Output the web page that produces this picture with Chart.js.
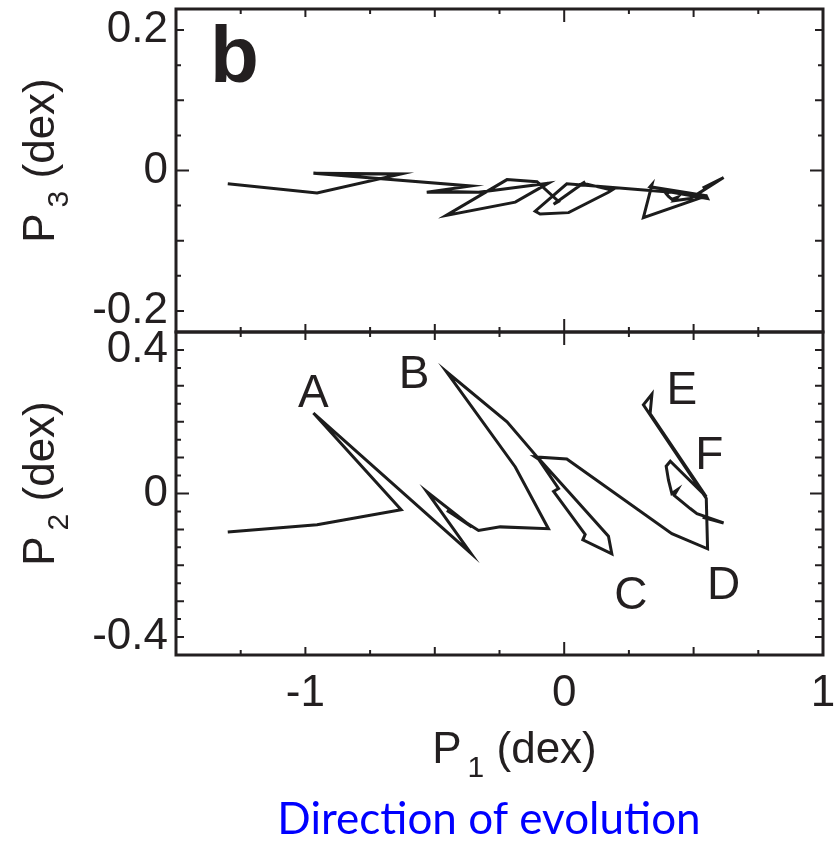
<!DOCTYPE html>
<html>
<head>
<meta charset="utf-8">
<script src="https://cdn.jsdelivr.net/npm/chart.js@4"></script>
<style>
  html, body { margin: 0; padding: 0; background: #ffffff; }
  #wrap { position: relative; width: 834px; height: 841px; }
</style>
</head>
<body>
<div id="wrap"><canvas id="chart" width="834" height="841"></canvas></div>
<script>
// Trajectory in principal-component space (dex)
const p1 = [-1.300, -0.955, -0.630, -0.969, -0.361, -0.531, -0.357, -0.453, -0.331, -0.247,
            -0.061, -0.189, -0.456, -0.221, -0.105, -0.022, -0.041,  0.081,  0.072,  0.184,
             0.171,  0.017, -0.093, -0.112,  0.010,  0.416,  0.554,  0.549,  0.306,  0.339,
             0.332,  0.549,  0.410,  0.394,  0.403,  0.416,  0.438,  0.425,  0.487,  0.513,
             0.616,  0.535];
const p2 = [-0.107, -0.087, -0.045,  0.224, -0.166,  0.005, -0.093, -0.047, -0.103, -0.093,
            -0.098,  0.074,  0.340,  0.200,  0.102,  0.014,  0.006, -0.114, -0.129, -0.168,
            -0.119,  0.005,  0.093,  0.102,  0.096, -0.112, -0.154, -0.014,  0.247,  0.277,
             0.223, -0.009,  0.090,  0.076,  0.037,  0.000,  0.011, -0.005, -0.042, -0.056,
            -0.082, -0.066];
const p3 = [-0.019, -0.032, -0.005, -0.004, -0.022, -0.031, -0.031, -0.030, -0.031, -0.027,
            -0.018, -0.045, -0.064, -0.013, -0.016, -0.044, -0.048, -0.016, -0.018, -0.028,
            -0.031, -0.060, -0.062, -0.058, -0.019, -0.031, -0.040, -0.036, -0.067, -0.020,
            -0.023, -0.036, -0.030, -0.033, -0.037, -0.041, -0.038, -0.043, -0.040, -0.034,
            -0.010, -0.025];

// Stage letters and the trajectory vertex each one marks
const stageLetters = ['A', 'B', 'C', 'D', 'E', 'F'];
const stageIndex = [3, 12, 19, 26, 29, 31];

// Axis ranges and labelled ticks
const xRange = [-1.5, 1];
const p3Range = [-0.23, 0.23];
const p2Range = [-0.45, 0.45];
const xTickLabels = [-1, 0, 1];
const p3TickLabels = [-0.2, 0, 0.2];
const p2TickLabels = [-0.4, -0.2, 0, 0.2, 0.4];

const panelLetter = 'b';
const captionText = 'Direction of evolution';

// ---- styling ----
const INK = '#231f20';
const FONT = '"Liberation Sans", Arial, Helvetica, sans-serif';
const letterOffsets = { A: [0, -6], B: [-32, 17], C: [19, 55], D: [16, 50], E: [30, 10], F: [3, -28] };

function tickLen(v, majorStep) {
  const r = Math.round(v * 1000) / 1000;
  if (Math.abs(r) < 1e-9) return 13;
  const q = r / majorStep;
  return Math.abs(q - Math.round(q)) < 1e-6 ? 8 : 5;
}
function range(a, b, step) {
  const out = [];
  for (let i = Math.ceil(a / step - 1e-9); i * step <= b + 1e-9; i++) out.push(Math.round(i * step * 1000) / 1000);
  return out;
}

function drawTitle(ctx, cx, cy, angle, main, sub, rest) {
  ctx.save();
  ctx.translate(cx, cy);
  ctx.rotate(angle);
  ctx.fillStyle = INK;
  ctx.textBaseline = 'alphabetic';
  ctx.textAlign = 'left';
  const big = '44px ' + FONT, small = '30px ' + FONT;
  ctx.font = big; const w1 = ctx.measureText(main).width; const w3 = ctx.measureText(rest).width;
  ctx.font = small; const w2 = ctx.measureText(sub).width;
  const gap = 6;
  let x = -(w1 + gap + w2 + w3) / 2;
  ctx.font = big; ctx.fillText(main, x, 0); x += w1 + gap;
  ctx.font = small; ctx.fillText(sub, x, 14); x += w2;
  ctx.font = big; ctx.fillText(rest, x, 0);
  ctx.restore();
}

const decorations = {
  id: 'decorations',
  afterDatasetsDraw(chart) {
    const { ctx, chartArea: ca, scales } = chart;
    const xs = scales.x, yt = scales.yTop, yb = scales.yBot;
    ctx.save();
    ctx.strokeStyle = INK;
    ctx.lineCap = 'butt';

    // inner tick marks on every side of both panels
    ctx.lineWidth = 2;
    const xt = range(xRange[0], xRange[1], 0.25);
    for (const panel of [yt, yb]) {
      for (const v of xt) {
        const px = xs.getPixelForValue(v), L = tickLen(v, 0.5);
        ctx.beginPath();
        ctx.moveTo(px, panel.top); ctx.lineTo(px, panel.top + L);
        ctx.moveTo(px, panel.bottom); ctx.lineTo(px, panel.bottom - L);
        ctx.stroke();
      }
      for (const v of range(panel.min, panel.max, 0.05)) {
        const py = panel.getPixelForValue(v), L = tickLen(v, 0.1);
        ctx.beginPath();
        ctx.moveTo(ca.left, py); ctx.lineTo(ca.left + L, py);
        ctx.moveTo(ca.right, py); ctx.lineTo(ca.right - L, py);
        ctx.stroke();
      }
    }

    // panel frames
    ctx.lineWidth = 3;
    ctx.strokeRect(ca.left, yt.top, ca.right - ca.left, yt.bottom - yt.top);
    ctx.strokeRect(ca.left, yb.top, ca.right - ca.left, yb.bottom - yb.top);

    // stage letters beside their vertices
    ctx.fillStyle = INK;
    ctx.font = '46px ' + FONT;
    ctx.textAlign = 'center';
    ctx.textBaseline = 'alphabetic';
    stageLetters.forEach((s, i) => {
      const k = stageIndex[i];
      const off = letterOffsets[s];
      ctx.fillText(s, xs.getPixelForValue(p1[k]) + off[0], yb.getPixelForValue(p2[k]) + off[1]);
    });

    // panel tag
    ctx.font = 'bold 80px ' + FONT;
    ctx.textAlign = 'left';
    ctx.fillText(panelLetter, ca.left + 34, yt.top + 73);
    ctx.restore();

    // axis titles
    drawTitle(ctx, (ca.left + ca.right) / 2 + 15, ca.bottom + 108, 0, 'P', '1', ' (dex)');
    drawTitle(ctx, 54, (yt.top + yt.bottom) / 2 - 10, -Math.PI / 2, 'P', '3', ' (dex)');
    drawTitle(ctx, 54, (yb.top + yb.bottom) / 2 - 10, -Math.PI / 2, 'P', '2', ' (dex)');

    // caption
    ctx.save();
    ctx.fillStyle = '#0000ff';
    ctx.font = '44px Lato, "Open Sans", sans-serif';
    ctx.textAlign = 'center';
    ctx.textBaseline = 'alphabetic';
    ctx.fillText(captionText, 489, 834);
    ctx.restore();
  }
};

const lineStyle = {
  showLine: true,
  borderColor: '#1c1c1c',
  borderWidth: 3,
  borderJoinStyle: 'miter',
  pointRadius: 0,
  pointHoverRadius: 0,
  fill: false,
  tension: 0
};

const tickFont = { family: FONT, size: 44 };
function fixedTicks(values) {
  return scale => { scale.ticks = values.map(v => ({ value: v })); };
}
function fmt(v) { return String(Math.round(v * 100) / 100); }
function noOverhang(scale) {
  scale.paddingTop = 0; scale.paddingBottom = 0;
  scale.paddingLeft = 0; scale.paddingRight = 0;
}

new Chart(document.getElementById('chart'), {
  type: 'scatter',
  data: {
    datasets: [
      Object.assign({ label: 'P3', yAxisID: 'yTop', data: p1.map((x, i) => ({ x, y: p3[i] })) }, lineStyle),
      Object.assign({ label: 'P2', yAxisID: 'yBot', data: p1.map((x, i) => ({ x, y: p2[i] })) }, lineStyle)
    ]
  },
  options: {
    responsive: false,
    animation: false,
    events: [],
    layout: { padding: { left: 0, right: 11, top: 9, bottom: 0 } },
    plugins: { legend: { display: false }, tooltip: { enabled: false } },
    scales: {
      x: {
        type: 'linear', position: 'bottom', min: xRange[0], max: xRange[1],
        grid: { display: false, drawTicks: false }, border: { display: false },
        afterBuildTicks: fixedTicks(xTickLabels),
        afterFit: s => { s.height = 186; noOverhang(s); },
        ticks: { font: tickFont, color: INK, padding: 12, maxRotation: 0, callback: v => fmt(v) }
      },
      yBot: {
        type: 'linear', position: 'left', stack: 'panels', stackWeight: 1,
        min: p2Range[0], max: p2Range[1],
        grid: { display: false, drawTicks: false }, border: { display: false },
        afterBuildTicks: fixedTicks(p2TickLabels),
        afterFit: s => { s.width = 176; noOverhang(s); },
        ticks: { font: tickFont, color: INK, padding: 8, callback: v => fmt(v) }
      },
      yTop: {
        type: 'linear', position: 'left', stack: 'panels', stackWeight: 1,
        min: p3Range[0], max: p3Range[1],
        grid: { display: false, drawTicks: false }, border: { display: false },
        afterBuildTicks: fixedTicks(p3TickLabels),
        afterFit: s => { s.width = 176; noOverhang(s); },
        ticks: { font: tickFont, color: INK, padding: 8, callback: v => fmt(v) }
      }
    }
  },
  plugins: [decorations]
});
</script>
</body>
</html>
